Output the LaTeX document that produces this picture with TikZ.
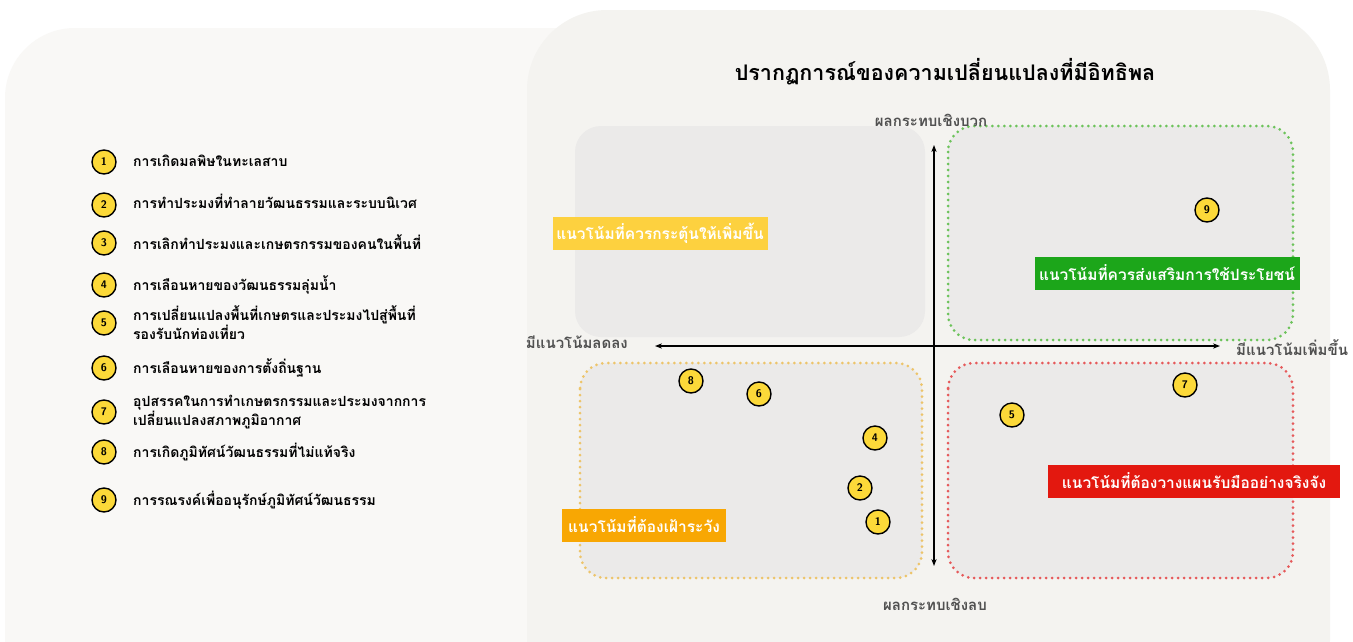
\documentclass[tikz,border=0pt]{standalone}
\usepackage{fontspec}
\setmainfont{Liberation Sans}
\newfontfamily\qdThaiFont[Script=Thai]{Loma}
\usetikzlibrary{arrows.meta}
\definecolor{qdPanelL}{HTML}{F9F8F6}
\definecolor{qdPanelR}{HTML}{F4F3F0}
\definecolor{qdBox}{HTML}{EBEAE9}
\definecolor{qdDotFill}{HTML}{FCD939}
\definecolor{qdYellow}{HTML}{FDD13F}
\definecolor{qdGreen}{HTML}{1CA61A}
\definecolor{qdOrange}{HTML}{F8A703}
\definecolor{qdRed}{HTML}{E3180F}
\definecolor{qdAxisText}{HTML}{505050}
\definecolor{qdGreenDot}{HTML}{6CC35A}
\definecolor{qdOrangeDot}{HTML}{EDC46A}
\definecolor{qdRedDot}{HTML}{E6595A}
\newcommand{\qdThai}[1]{{\qdThaiFont #1}}
\newcommand{\qdTwo}[2]{\qdThai{#1}\\\qdThai{#2}}

\begin{document}
\begin{tikzpicture}[x=1pt,y=-1pt,
  qdnum/.style={circle, draw=black, line width=1.4pt, fill=qdDotFill, minimum size=24pt, inner sep=0pt, font=\sffamily\bfseries\fontsize{11}{12}\selectfont},
  qdlegend/.style={anchor=west, inner sep=0pt, align=left, font=\fontsize{14}{16}\selectfont\bfseries},
  qdtag/.style={inner sep=0pt, text=white, minimum height=33pt, font=\fontsize{15.5}{17}\selectfont\bfseries},
  qdaxis/.style={inner sep=0pt, text=qdAxisText, font=\fontsize{15}{17}\selectfont\bfseries},
  qdzone/.style={fill=qdBox, rounded corners=26pt},
  qddots/.style={line width=3pt, dash pattern=on 0pt off 6pt, line cap=round}]
\useasboundingbox (0,0) rectangle (1353,641);
\clip (0,0) rectangle (1353,641);
\fill[white] (0,0) rectangle (1353,641);
\fill[qdPanelL, rounded corners=70pt] (5,28) rectangle (760,720);
\fill[qdPanelR, rounded corners=80pt] (527,10) rectangle (1330,720);
\node[inner sep=0pt, font=\fontsize{21.5}{24}\selectfont\bfseries] (title) at (945,72) {\qdThai{ปรากฏการณ์ของความเปลี่ยนแปลงที่มีอิทธิพล}};
\fill[qdzone] (575,126) rectangle (925,337);
\fill[qdzone] (948,126) rectangle (1293,340);
\fill[qdzone] (580,363) rectangle (922,578);
\fill[qdzone] (948,363) rectangle (1293,578);
\draw[qddots, qdGreenDot, rounded corners=26pt] (948,126) rectangle (1293,340);
\draw[qddots, qdOrangeDot, rounded corners=26pt] (580,363) rectangle (922,578);
\draw[qddots, qdRedDot, rounded corners=26pt] (948,363) rectangle (1293,578);
\coordinate (ytop) at (934,145);
\coordinate (ybot) at (934,566);
\coordinate (xleft) at (655,346);
\coordinate (xright) at (1220,346);
\draw[line width=1.3pt, {Stealth[length=7pt]}-{Stealth[length=7pt]}] (ybot) -- (ytop);
\draw[line width=1.3pt, {Stealth[length=7pt]}-{Stealth[length=7pt]}] (xleft) -- (xright);
\node[qdaxis] (pos) at (931,120) {\qdThai{ผลกระทบเชิงบวก}};
\node[qdaxis] (neg) at (935,604) {\qdThai{ผลกระทบเชิงลบ}};
\node[qdaxis, anchor=east] (down) at (628,342) {\qdThai{มีแนวโน้มลดลง}};
\node[qdaxis, anchor=west] (up) at (1236,348) {\qdThai{มีแนวโน้มเพิ่มขึ้น}};
\node[qdtag, fill=qdYellow, minimum width=215pt] (boost) at (660,233) {\qdThai{แนวโน้มที่ควรกระตุ้นให้เพิ่มขึ้น}};
\node[qdtag, fill=qdGreen, minimum width=265pt] (promote) at (1167,273) {\qdThai{แนวโน้มที่ควรส่งเสริมการใช้ประโยชน์}};
\node[qdtag, fill=qdOrange, minimum width=164pt] (watch) at (644,525) {\qdThai{แนวโน้มที่ต้องเฝ้าระวัง}};
\node[qdtag, fill=qdRed, minimum width=292pt] (plan) at (1194,481) {\qdThai{แนวโน้มที่ต้องวางแผนรับมืออย่างจริงจัง}};
\node[qdnum] (p1) at (878,522) {1};
\node[qdnum] (p2) at (860,488) {2};
\node[qdnum] (p4) at (875,438) {4};
\node[qdnum] (p5) at (1012,415) {5};
\node[qdnum] (p6) at (759,394) {6};
\node[qdnum] (p7) at (1185,385) {7};
\node[qdnum] (p8) at (691,381) {8};
\node[qdnum] (p9) at (1207,210) {9};
\node[qdnum] (l1) at (104,162) {1};
\node[qdnum] (l2) at (104,205) {2};
\node[qdnum] (l3) at (104,243) {3};
\node[qdnum] (l4) at (104,285) {4};
\node[qdnum] (l5) at (104,323) {5};
\node[qdnum] (l6) at (104,368) {6};
\node[qdnum] (l7) at (104,412) {7};
\node[qdnum] (l8) at (104,452) {8};
\node[qdnum] (l9) at (104,500) {9};
\node[qdlegend] (t1) at (133,161) {\qdThai{การเกิดมลพิษในทะเลสาบ}};
\node[qdlegend] (t2) at (133,201) {\qdThai{การทำประมงที่ทำลายวัฒนธรรมและระบบนิเวศ}};
\node[qdlegend] (t3) at (133,242) {\qdThai{การเลิกทำประมงและเกษตรกรรมของคนในพื้นที่}};
\node[qdlegend] (t4) at (133,285) {\qdThai{การเลือนหายของวัฒนธรรมลุ่มน้ำ}};
\node[qdlegend] (t5) at (133,323) {\qdTwo{การเปลี่ยนแปลงพื้นที่เกษตรและประมงไปสู่พื้นที่}{รองรับนักท่องเที่ยว}};
\node[qdlegend] (t6) at (133,368) {\qdThai{การเลือนหายของการตั้งถิ่นฐาน}};
\node[qdlegend] (t7) at (133,412) {\qdTwo{อุปสรรคในการทำเกษตรกรรมและประมงจากการ}{เปลี่ยนแปลงสภาพภูมิอากาศ}};
\node[qdlegend] (t8) at (133,452) {\qdThai{การเกิดภูมิทัศน์วัฒนธรรมที่ไม่แท้จริง}};
\node[qdlegend] (t9) at (133,500) {\qdThai{การรณรงค์เพื่ออนุรักษ์ภูมิทัศน์วัฒนธรรม}};
\end{tikzpicture}
\end{document}
